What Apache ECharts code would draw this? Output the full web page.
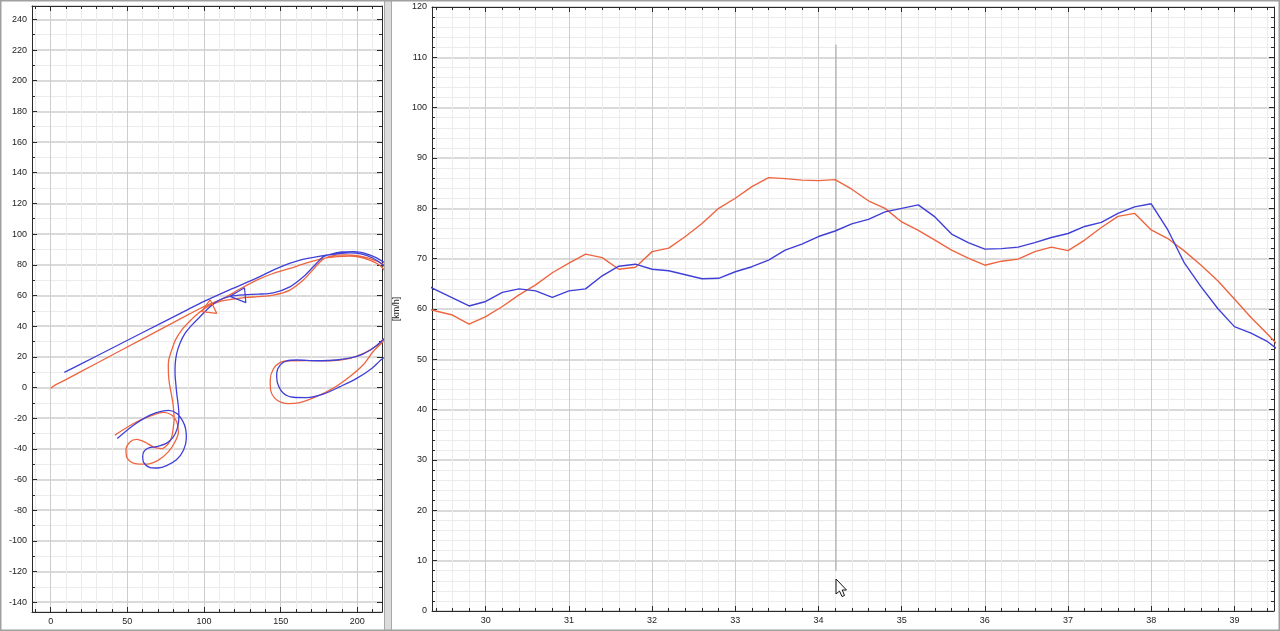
<!DOCTYPE html>
<html><head><meta charset="utf-8">
<script src="https://cdn.jsdelivr.net/npm/echarts@6/dist/echarts.min.js"></script>
<style>html,body{margin:0;padding:0;background:#fff;overflow:hidden}#c{width:1280px;height:631px}</style>
</head><body><div id="c"></div><script>
// ---- distance axis (km) and speeds (km/h) ----
const kmPoints = [29.2,29.4,29.6,29.8,30.0,30.2,30.4,30.6,30.8,31.0,31.2,31.4,31.6,31.8,32.0,32.2,32.4,32.6,32.8,33.0,33.2,33.4,33.6,33.8,34.0,34.2,34.4,34.6,34.8,35.0,35.2,35.4,35.6,35.8,36.0,36.2,36.4,36.6,36.8,37.0,37.2,37.4,37.6,37.8,38.0,38.2,38.4,38.6,38.8,39.0,39.2,39.4,39.6];
const speedRed = [60.5,59.6,58.8,57.0,58.5,60.5,62.8,64.8,67.2,69.1,70.9,70.2,67.9,68.3,71.4,72.1,74.4,77.0,80.0,82.0,84.3,86.1,85.9,85.6,85.5,85.7,83.8,81.5,80.0,77.3,75.6,73.7,71.7,70.1,68.7,69.5,69.9,71.4,72.3,71.6,73.7,76.2,78.4,79.0,75.7,74.0,71.5,68.7,65.6,62.0,58.3,55.0,51.5];
const speedBlue = [65.5,63.8,62.2,60.6,61.5,63.3,64.0,63.6,62.3,63.6,64.0,66.6,68.5,68.9,67.9,67.6,66.8,66.0,66.1,67.4,68.4,69.7,71.7,72.9,74.4,75.5,76.9,77.8,79.3,80.0,80.7,78.3,74.9,73.2,71.9,72.0,72.3,73.2,74.2,75.0,76.4,77.2,79.0,80.3,80.9,75.7,69.1,64.4,60.1,56.5,55.2,53.5,51.0];
const cursorKm = 34.21;
const cursorSpeedSpan = [8, 112.5];

// ---- track map (x, y in m) ----
const trackBlue = [[8.9,9.8],[30,20.5],[60,35.8],[90,51.1],[100,56.1],[117,63.8],[135,71.6],[149.6,78.5],[162.6,83],[175,85.4],[186,87],[195,87.8],[203,87],[210,84.4],[216,80.5],[224,72],[232,55],[232,32],[224,22],[216.6,18.9],[209.4,12.4],[199.6,5.9],[188.7,0.5],[177.8,-4.3],[167,-6.6],[158.3,-6.4],[151.8,-3.8],[148,2.7],[147.4,9.2],[149.6,14.6],[154,17.4],[160.5,17.9],[173.5,17.4],[186.6,17.9],[199.6,20.2],[208.3,24.3],[216.6,30.9],[226,42],[230,62],[224,76],[216,82.5],[208,86.5],[198,88.6],[190,88.3],[183,87],[177.8,85.2],[171.3,78.7],[164.8,72.2],[156,65.6],[145.2,61.7],[135,60.8],[127.8,60.5],[117,59.4],[110,57],[103.9,52.6],[97.4,46.1],[92,40.6],[87.6,35.2],[84.2,28.5],[82.2,22.2],[81.2,15],[81.1,9.1],[81.6,2.5],[82.2,-3.9],[83,-10],[83.6,-17],[83.4,-22.5],[82.3,-27.5],[80,-32.2],[75.7,-36.3],[69.1,-38.6],[64,-39.4],[61,-41.5],[60,-45],[60.6,-48.8],[64.8,-52.2],[70,-52.5],[75.6,-51],[82.2,-47],[86.6,-41],[88.5,-33],[88,-27],[86.3,-22.3],[82.5,-17.2],[77,-15],[73.5,-15.2],[64.8,-18],[54,-24.6],[43.4,-33.3]];
const trackRed = [[0,-0.5],[2.8,1.5],[9.3,4.8],[30,15.8],[60,31.7],[90,47.6],[97.4,51.5],[104,54.5],[112.6,58],[123,64],[134.4,70],[145,74.3],[156,77.6],[167,81.2],[177.8,84.1],[187,85.3],[195,85.6],[202,84.8],[208,83],[212.5,81],[215.8,78.7],[222,70],[228,50],[226,36],[216.6,31.2],[214.8,28.7],[206.1,23.3],[195.3,19],[182.2,17.4],[167,17.5],[156,17.4],[149.5,16.2],[145.2,12],[143.2,5],[143.5,-2],[146.1,-7],[150,-9.5],[155,-10.6],[162.4,-9.9],[173.2,-6],[184.1,-0.6],[195,7],[203.7,14.6],[210.2,23.3],[216.6,29.8],[226,42],[228,64],[222,76],[216.6,80.4],[208,84.1],[200,86],[192,86.5],[186.6,86.3],[177.8,83.7],[171.3,77],[164.8,70],[156,63.5],[145.2,60.2],[135,59.2],[127.8,58.7],[118,57.5],[110,56],[102,52.5],[96.3,48.3],[90.5,43],[85.4,37.4],[81.4,31],[78.9,24.3],[77,18],[76.7,13.4],[77,6],[77.8,0.4],[79,-6],[80,-12.6],[80.5,-20],[80,-25.9],[78.9,-32.4],[76.7,-36.7],[72.4,-39.9],[66.9,-38.8],[61.5,-35.6],[56.1,-33.9],[51.7,-35.6],[49.1,-41],[50,-46.3],[55,-49.6],[62.6,-50],[70.2,-47.4],[76.7,-42],[81.1,-35.4],[83.3,-29],[82.2,-22.3],[78.9,-18],[73.5,-16.3],[64.8,-18.7],[54,-23.5],[41.9,-31.1]];
const markerRed = [[104,57.2],[108.3,48.3],[98.5,49.5],[104,57.2]];
const markerBlue = [[117,59.4],[126.4,65],[127.3,55.3],[117,59.4]];

// ---- axis ranges / steps ----
const mapX = {min:-12.2, max:216.1, step:50, minor:5};
const mapY = {min:-146.4, max:248.7, step:20, minor:2};
const kmX = {min:29.354, max:39.476, step:1, minor:5};
const spdY = {min:0, max:120, step:10, minor:5};

const RED = '#ee6540', BLUE = '#4040d8';
const FONT = '"Liberation Sans", Arial, sans-serif';
const isMult = (v, s) => Math.abs(v / s - Math.round(v / s)) < 1e-6;

function axis(kind, gi, pos, r, main, extra) {
  const horiz = kind === 'x';
  return Object.assign({
    type: 'value', gridIndex: gi, position: pos, min: r.min, max: r.max,
    minInterval: r.step, maxInterval: r.step,
    axisLine: {show: true, onZero: false, lineStyle: {color: '#2a2a2a', width: 1}},
    axisTick: {show: true, inside: true, length: 5, lineStyle: {color: '#2a2a2a'}},
    minorTick: {show: true, splitNumber: r.minor, length: 3, lineStyle: {color: '#2a2a2a'}},
    axisLabel: {show: main, color: '#222', fontSize: 9, fontFamily: FONT, margin: 5,
      formatter: v => isMult(v, r.step) ? String(Math.round(v)) : ''},
    splitLine: {show: main, lineStyle: horiz ? {color: '#cdcdcd', width: 1} : {color: '#dadada', width: 2}},
    minorSplitLine: {show: main, lineStyle: {color: '#ececec', width: 1}}
  }, extra || {});
}

const chart = echarts.init(document.getElementById('c'), null, {renderer: 'canvas'});
chart.setOption({
  backgroundColor: '#ffffff',
  animation: false,
  grid: [
    {left: 32, top: 6, width: 350, height: 606},
    {left: 432, top: 7, width: 842, height: 604}
  ],
  xAxis: [
    axis('x', 0, 'bottom', mapX, true),
    axis('x', 0, 'top', mapX, false),
    axis('x', 1, 'bottom', kmX, true),
    axis('x', 1, 'top', kmX, false)
  ],
  yAxis: [
    axis('y', 0, 'left', mapY, true),
    axis('y', 0, 'right', mapY, false),
    axis('y', 1, 'left', spdY, true, {name: '[km/h]', nameLocation: 'middle', nameGap: 26,
      nameTextStyle: {color: '#222', fontSize: 9, fontFamily: FONT}}),
    axis('y', 1, 'right', spdY, false)
  ],
  series: [
    {type: 'line', xAxisIndex: 0, yAxisIndex: 0, data: trackRed, showSymbol: false, smooth: 0.3,
      lineStyle: {color: RED, width: 1.3}, itemStyle: {color: RED}, z: 3},
    {type: 'line', xAxisIndex: 0, yAxisIndex: 0, data: trackBlue, showSymbol: false, smooth: 0.3,
      lineStyle: {color: BLUE, width: 1.3}, itemStyle: {color: BLUE}, z: 4},
    {type: 'line', xAxisIndex: 0, yAxisIndex: 0, data: markerRed, showSymbol: false,
      lineStyle: {color: RED, width: 1.2}, z: 5},
    {type: 'line', xAxisIndex: 0, yAxisIndex: 0, data: markerBlue, showSymbol: false,
      lineStyle: {color: BLUE, width: 1.2}, z: 5},
    {type: 'line', xAxisIndex: 2, yAxisIndex: 2, data: kmPoints.map((k, i) => [k, speedRed[i]]),
      showSymbol: false, lineStyle: {color: RED, width: 1.4}, z: 3},
    {type: 'line', xAxisIndex: 2, yAxisIndex: 2, data: kmPoints.map((k, i) => [k, speedBlue[i]]),
      showSymbol: false, lineStyle: {color: BLUE, width: 1.4}, z: 4},
    {type: 'line', xAxisIndex: 2, yAxisIndex: 2, data: cursorSpeedSpan.map(v => [cursorKm, v]),
      showSymbol: false, lineStyle: {color: '#9a9a9a', width: 1}, z: 2}
  ],
  graphic: [
    {type: 'rect', shape: {x: 384, y: 0, width: 8, height: 631}, style: {fill: '#dcdcdc'}, z: 50},
    {type: 'line', shape: {x1: 384.5, y1: 0, x2: 384.5, y2: 631}, style: {stroke: '#a8a8a8', lineWidth: 1}, z: 51},
    {type: 'line', shape: {x1: 391.5, y1: 0, x2: 391.5, y2: 631}, style: {stroke: '#a8a8a8', lineWidth: 1}, z: 51},
    {type: 'rect', shape: {x: 0.75, y: 0.75, width: 1278.5, height: 629.5}, style: {fill: 'none', stroke: '#a0a0a0', lineWidth: 1.5}, z: 51},
    {type: 'polygon', shape: {points: [[836,579],[836,594],[839.5,591],[842,596.5],[844.5,595.5],[842.2,590],[846.5,590]]},
      style: {fill: '#ffffff', stroke: '#111', lineWidth: 1}, z: 60}
  ]
});
</script></body></html>
